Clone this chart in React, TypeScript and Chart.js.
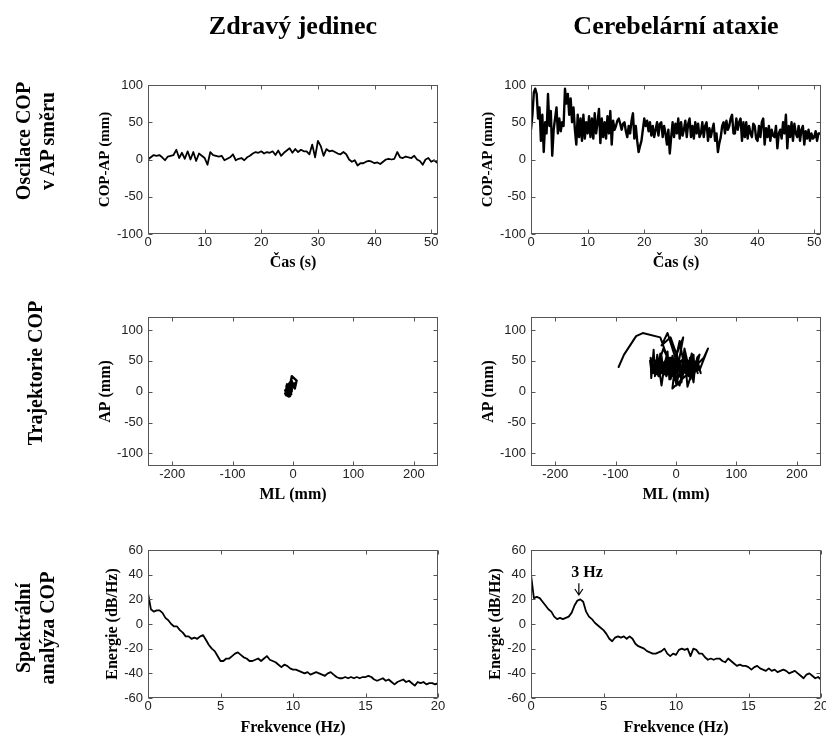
import React, { useEffect, useRef } from 'react';
import { Chart, registerables } from 'chart.js';

Chart.register(...registerables);

// ---------------- DATA ----------------
const COLUMN_TITLES = ['Zdravý jedinec', 'Cerebelární ataxie'];
const ROW_TITLES = ['Oscilace COP\nv AP směru', 'Trajektorie COP', 'Spektrální\nanalýza COP'];

const TIME_STEP_HEALTHY = 0.5; // s
const TIME_STEP_ATAXIA = 0.25; // s
const FREQ_STEP = 0.2; // Hz

// Healthy subject – COP AP (mm)
const healthyAP = [
  0, 3, 6, 5, 6, 3, -1, 4, 5, 6,
  13, 2, 9, 1, 11, 0, 10, -2, 8, 5,
  2, -7, 10, 6, 5, 4, 5, -1, 1, 3,
  7, -1, 1, 2, -1, 3, 5, 8, 10, 9,
  11, 8, 10, 9, 11, 6, 12, 5, 9, 12,
  15, 9, 14, 10, 13, 11, 11, 7, 20, 3,
  25, 18, 5, 14, 11, 12, 10, 8, 7, 10,
  7, 0, -3, -1, -8, -5, -5, -3, -2, -3,
  -5, -4, -6, -3, 0, 1, 0, 1, 10, 3,
  2, 4, 3, 2, 5, 0, -2, -7, 0, 2,
  -3, -1, -4,
];
// Healthy subject – COP ML (mm)
const healthyML = [
  -5, -8, -4, -9, -6, -10, -5, -2, -7, -11,
  -6, -9, -3, -10, -6, -12, -4, -7, -2, -9,
  -13, -5, -10, -3, -8, -11, -4, -9, -2, -6,
  -10, -3, -8, -12, -4, -9, -3, -10, -6, -11,
  -2, -8, -4, -9, -1, -6, -10, -3, -8, -2,
  -5, -9, -1, -6, -3, 0, -7, 1, -3, -6,
  -2, 6, 3, 4, -4, -1, -6, -3, -9, -5,
  -2, -10, -6, -11, -7, -12, -4, -10, -6, -13,
  -8, -3, -11, -7, -10, -4, -12, -6, -9, -2,
  -11, -7, -4, -10, -6, -11, -3, -8, -12, -7,
  -5, -10, -6,
];

// Ataxia patient – COP AP (mm)
const ataxiaAP = [
  40, 60, 90, 95, 88, 55, 70, 25, 60, 10, 50, 35, 88, 45, 65, 5,
  40, 55, 70, 35, 55, 38, 50, 45, 95, 75, 88, 60, 82, 50, 70, 40,
  20, 60, 30, 55, 25, 60, 28, 50, 35, 58, 30, 55, 28, 62, 35, 50,
  68, 22, 55, 30, 50, 28, 58, 35, 65, 20, 52, 40, 45, 52, 55, 48,
  40, 48, 50, 38, 30, 45, 35, 52, 62, 28, 45, 25, 10, 18, 25, 40,
  55, 45, 52, 38, 50, 32, 45, 30, 40, 50, 32, 48, 50, 30, 45, 35,
  20, 40, 8, 30, 50, 30, 48, 35, 55, 28, 50, 32, 40, 52, 30, 48,
  55, 30, 45, 28, 50, 35, 48, 30, 35, 50, 30, 45, 50, 25, 42, 30,
  40, 48, 25, 35, 10, 22, 30, 45, 50, 35, 52, 40, 45, 55, 60, 35,
  35, 55, 40, 50, 55, 25, 50, 30, 50, 28, 45, 35, 30, 48, 45, 28,
  25, 45, 30, 50, 55, 20, 42, 30, 45, 25, 40, 32, 30, 45, 15, 35,
  40, 28, 50, 35, 60, 15, 45, 30, 50, 25, 48, 35, 30, 45, 25, 40,
  45, 20, 38, 28, 40, 25, 35, 28, 30, 38, 25, 35, 35,
];
// Ataxia patient – COP ML (mm)
const ataxiaML = [
  -95, -86, -66, -55, -26, -14, -21, -35, -31, -24, -18, -9, 12, 4, 1, -6,
  31, 46, 53, 39, 24, 16, 9, 2, -14, -24, -9, 1, 6, 12, 14, 21,
  24, 29, 31, 24, 21, 14, 11, 4, 1, -6, -9, -16, -19, -26, -29, -36,
  -37, -41, -42, -37, -34, -31, -24, -21, -14, -11, -4, 1, 4, 11, 14, 21,
  24, 31, 34, 38, 41, 37, 36, 29, 26, 19, 16, 9, 6, -1, -4, -11,
  -14, -21, -24, -31, -34, -39, -40, -34, -31, -24, -21, -14, -11, -4, 1, 6,
  9, 16, 19, 26, 29, 36, 31, 29, 23, 21, 15, 13, 7, 5, -1, -3,
  -9, -11, -17, -19, -25, -27, -33, -35, -41, -43, -39, -37, -31, -29, -23, -21,
  -15, -13, -7, -5, 1, 3, 9, 11, 17, 19, 25, 27, 33, 35, 39, 33,
  31, 25, 23, 17, 15, 9, 7, 1, -1, -7, -9, -15, -17, -23, -25, -31,
  -27, -25, -19, -17, -11, -9, -3, -1, 5, 7, 13, 15, 21, 23, 29, 31,
  36, 29, 26, 19, 16, 9, 6, -1, -4, -11, -14, -21, -24, -19, -16, -9,
  -6, 1, 4, 11, 14, 21, 24, 19, 16, 9, 6, -1, 2,
];

// Power spectra (dB/Hz), sampled every FREQ_STEP Hz from 0 to 20 Hz
const healthyPSD = [
  25, 12, 10, 11, 11, 9, 5, 3, 0, -2,
  -2, -5, -7, -10, -10, -12, -11, -12, -10, -9,
  -13, -17, -20, -22, -26, -30, -30, -28, -28, -26,
  -24, -23, -25, -27, -28, -30, -30, -29, -28, -30,
  -28, -26, -29, -30, -31, -33, -35, -33, -34, -36,
  -37, -37, -38, -39, -40, -39, -41, -40, -39, -40,
  -41, -42, -40, -39, -41, -43, -44, -44, -43, -44,
  -43, -44, -43, -44, -43, -43, -42, -43, -45, -46,
  -45, -44, -46, -45, -47, -49, -47, -46, -45, -47,
  -46, -48, -50, -47, -48, -47, -49, -48, -48, -49,
  -48,
];
const ataxiaPSD = [
  40, 21, 22, 21, 18, 15, 12, 10, 6, 4,
  5, 4, 5, 6, 9, 15, 19, 20, 18, 10,
  6, 4, 1, -1, -3, -5, -8, -12, -14, -11,
  -10, -11, -10, -12, -10, -12, -16, -18, -19, -20,
  -22, -23, -24, -24, -23, -22, -20, -24, -26, -24,
  -25, -21, -20, -21, -20, -26, -20, -21, -24, -24,
  -27, -29, -28, -29, -28, -28, -30, -31, -28, -30,
  -32, -34, -33, -34, -34, -35, -37, -35, -34, -36,
  -37, -38, -36, -38, -37, -39, -38, -37, -38, -40,
  -39, -38, -40, -42, -44, -41, -40, -42, -44, -43,
  -45,
];

// Tick values
const timeTicks = [0, 10, 20, 30, 40, 50];
const copTicks = [-100, -50, 0, 50, 100];
const mlTicks = [-200, -100, 0, 100, 200];
const trajApTicks = [-100, -50, 0, 50, 100];
const freqTicks = [0, 5, 10, 15, 20];
const energyTicks = [-60, -40, -20, 0, 20, 40, 60];

// Peak annotation (ataxia spectrum)
const PEAK_LABEL = '3 Hz';
const PEAK_FREQ = 3.3;
const ARROW_TIP_DB = 23.5;
const ARROW_TAIL_DB = 33;
const LABEL_FREQ = 3.86;
const LABEL_DB = 41.5;

// ---------------- LAYOUT ----------------
const CANVAS_W = 850;
const CANVAS_H = 760;
const WY = 60;
const HX = 40;
const SERIF = '"Liberation Serif", "Times New Roman", Times, serif';
const SANS = '"Liberation Sans", Arial, Helvetica, sans-serif';
const TICK_COLOR = '#222';
const FRAME_COLOR = '#555';

const toPoints = (xs: number[], ys: number[]) =>
  ys.map((y, i) => ({ x: xs[i], y })).filter((p) => p.x !== undefined);
const timeAxis = (n: number, step: number) => Array.from({ length: n }, (_, i) => i * step);

const boxPlugin = {
  id: 'matlabBox',
  afterDatasetsDraw(chart: any) {
    const { ctx, chartArea: a, scales } = chart;
    const l = Math.round(a.left) + 0.5;
    const r = Math.round(a.right) - 0.5;
    const t = Math.round(a.top) + 0.5;
    const b = Math.round(a.bottom) - 0.5;
    ctx.save();
    ctx.strokeStyle = FRAME_COLOR;
    ctx.lineWidth = 1;
    ctx.strokeRect(l, t, r - l, b - t);
    const tl = 4;
    ctx.beginPath();
    for (const tk of scales.x.ticks) {
      const px = Math.round(scales.x.getPixelForValue(tk.value)) + 0.5;
      ctx.moveTo(px, b);
      ctx.lineTo(px, b - tl);
      ctx.moveTo(px, t);
      ctx.lineTo(px, t + tl);
    }
    for (const tk of scales.y.ticks) {
      const py = Math.round(scales.y.getPixelForValue(tk.value)) + 0.5;
      ctx.moveTo(l, py);
      ctx.lineTo(l + tl, py);
      ctx.moveTo(r, py);
      ctx.lineTo(r - tl, py);
    }
    ctx.stroke();
    ctx.restore();
  },
};

const peakPlugin = {
  id: 'peakArrow',
  afterDatasetsDraw(chart: any) {
    const { ctx, scales } = chart;
    const { x, y } = scales;
    const px = x.getPixelForValue(PEAK_FREQ);
    const yTip = y.getPixelForValue(ARROW_TIP_DB);
    const yTail = y.getPixelForValue(ARROW_TAIL_DB);
    ctx.save();
    ctx.strokeStyle = '#000';
    ctx.lineWidth = 1.2;
    ctx.beginPath();
    ctx.moveTo(px, yTail);
    ctx.lineTo(px, yTip);
    ctx.moveTo(px - 4, yTip - 6);
    ctx.lineTo(px, yTip);
    ctx.lineTo(px + 4, yTip - 6);
    ctx.stroke();
    ctx.fillStyle = '#000';
    ctx.font = `bold 16px ${SERIF}`;
    ctx.textAlign = 'center';
    ctx.textBaseline = 'middle';
    ctx.fillText(PEAK_LABEL, x.getPixelForValue(LABEL_FREQ), y.getPixelForValue(LABEL_DB));
    ctx.restore();
  },
};

type Spec = {
  L: number; R: number; T: number; B: number;
  xMin: number; xMax: number; yMin: number; yMax: number;
  xTicks: number[]; yTicks: number[];
  xTitle: string; yTitle: string;
  xTitlePad: number; yTitlePad: number; yTitleSize?: number;
  points: { x: number; y: number }[];
  lineWidth: number;
  extra?: any[];
};

function buildConfig(s: Spec): any {
  return {
    type: 'scatter',
    data: {
      datasets: [
        {
          data: s.points,
          showLine: true,
          borderColor: '#000',
          backgroundColor: '#000',
          borderWidth: s.lineWidth,
          borderJoinStyle: 'round',
          borderCapStyle: 'round',
          pointRadius: 0,
          tension: 0,
          fill: false,
        },
      ],
    },
    options: {
      responsive: false,
      animation: false,
      devicePixelRatio: 1,
      events: [],
      layout: {
        padding: {
          left: s.L - WY,
          top: s.T,
          right: CANVAS_W - s.R,
          bottom: CANVAS_H - s.B - HX,
        },
      },
      plugins: { legend: { display: false }, tooltip: { enabled: false } },
      scales: {
        x: {
          type: 'linear',
          position: 'bottom',
          min: s.xMin,
          max: s.xMax,
          afterBuildTicks: (sc: any) => {
            sc.ticks = s.xTicks.map((v) => ({ value: v }));
          },
          afterFit: (sc: any) => {
            sc.height = HX;
          },
          ticks: {
            font: { family: SANS, size: 13 },
            color: TICK_COLOR,
            padding: 1,
            maxRotation: 0,
            autoSkip: false,
          },
          grid: { display: false, drawTicks: false },
          border: { display: false },
          title: {
            display: true,
            text: s.xTitle,
            color: '#000',
            font: { family: SERIF, size: 16, weight: 'bold' },
            padding: { top: 0, bottom: s.xTitlePad },
          },
        },
        y: {
          type: 'linear',
          position: 'left',
          min: s.yMin,
          max: s.yMax,
          afterBuildTicks: (sc: any) => {
            sc.ticks = s.yTicks.map((v) => ({ value: v }));
          },
          afterFit: (sc: any) => {
            sc.width = WY;
          },
          ticks: {
            font: { family: SANS, size: 13 },
            color: TICK_COLOR,
            padding: 5,
            autoSkip: false,
          },
          grid: { display: false, drawTicks: false },
          border: { display: false },
          title: {
            display: true,
            text: s.yTitle,
            color: '#000',
            font: { family: SERIF, size: s.yTitleSize ?? 16, weight: 'bold' },
            padding: { top: s.yTitlePad, bottom: 0 },
          },
        },
      },
    },
    plugins: [boxPlugin, ...(s.extra || [])],
  };
}

function Panel({ spec }: { spec: Spec }) {
  const ref = useRef<HTMLCanvasElement>(null);
  useEffect(() => {
    if (!ref.current) return;
    const chart = new Chart(ref.current, buildConfig(spec));
    return () => chart.destroy();
  }, []);
  return (
    <canvas
      ref={ref}
      width={CANVAS_W}
      height={CANVAS_H}
      style={{ position: 'absolute', left: 0, top: 0, width: CANVAS_W, height: CANVAS_H }}
    />
  );
}

const COL = [
  { L: 148, R: 438 },
  { L: 531, R: 821 },
];
const ROW = [
  { T: 85, B: 234 },
  { T: 317, B: 466 },
  { T: 550, B: 698 },
];

const healthyT = timeAxis(healthyAP.length, TIME_STEP_HEALTHY);
const ataxiaT = timeAxis(ataxiaAP.length, TIME_STEP_ATAXIA);
const freqs = timeAxis(healthyPSD.length, FREQ_STEP);

const specs: Spec[] = [];
[0, 1].forEach((c) => {
  const ap = c === 0 ? healthyAP : ataxiaAP;
  const ml = c === 0 ? healthyML : ataxiaML;
  const t = c === 0 ? healthyT : ataxiaT;
  const psd = c === 0 ? healthyPSD : ataxiaPSD;
  specs.push({
    ...COL[c], ...ROW[0],
    xMin: 0, xMax: 51.2, yMin: -100, yMax: 100,
    xTicks: timeTicks, yTicks: copTicks,
    xTitle: 'Čas (s)', yTitle: 'COP-AP (mm)',
    xTitlePad: 1.4, yTitlePad: 8, yTitleSize: 15,
    points: toPoints(t, ap), lineWidth: c === 0 ? 1.8 : 2.4,
  });
  specs.push({
    ...COL[c], ...ROW[1],
    xMin: -240, xMax: 240, yMin: -120.5, yMax: 121,
    xTicks: mlTicks, yTicks: trajApTicks,
    xTitle: 'ML (mm)', yTitle: 'AP (mm)',
    xTitlePad: 1.4, yTitlePad: 8.4,
    points: toPoints(ml, ap), lineWidth: c === 0 ? 2.4 : 2,
  });
  specs.push({
    ...COL[c], ...ROW[2],
    xMin: 0, xMax: 20, yMin: -60, yMax: 60,
    xTicks: freqTicks, yTicks: energyTicks,
    xTitle: 'Frekvence (Hz)', yTitle: 'Energie (dB/Hz)',
    xTitlePad: 0.4, yTitlePad: 15,
    points: toPoints(freqs, psd), lineWidth: 1.8,
    extra: c === 1 ? [peakPlugin] : [],
  });
});

const centered = (cx: number, cy: number, rotate: boolean, font: string): React.CSSProperties => ({
  position: 'absolute',
  left: cx,
  top: cy,
  transform: `translate(-50%, -50%)${rotate ? ' rotate(-90deg)' : ''}`,
  whiteSpace: 'pre',
  textAlign: 'center',
  font,
  color: '#000',
});

const ROW_LABEL_CENTERS = [
  { x: 35, y: 141 },
  { x: 35, y: 373 },
  { x: 35, y: 628 },
];

export default function App() {
  return (
    <div
      style={{
        position: 'fixed',
        left: 0,
        top: 0,
        width: 826,
        height: 736,
        overflow: 'hidden',
        background: '#fff',
      }}
    >
      {specs.map((s, i) => (
        <Panel key={i} spec={s} />
      ))}
      {COLUMN_TITLES.map((t, i) => (
        <div key={t} style={centered((COL[i].L + COL[i].R) / 2, 26, false, `bold 26px/30px ${SERIF}`)}>
          {t}
        </div>
      ))}
      {ROW_TITLES.map((t, i) => (
        <div key={t} style={centered(ROW_LABEL_CENTERS[i].x, ROW_LABEL_CENTERS[i].y, true, `bold 20px/24px ${SERIF}`)}>
          {t}
        </div>
      ))}
    </div>
  );
}
